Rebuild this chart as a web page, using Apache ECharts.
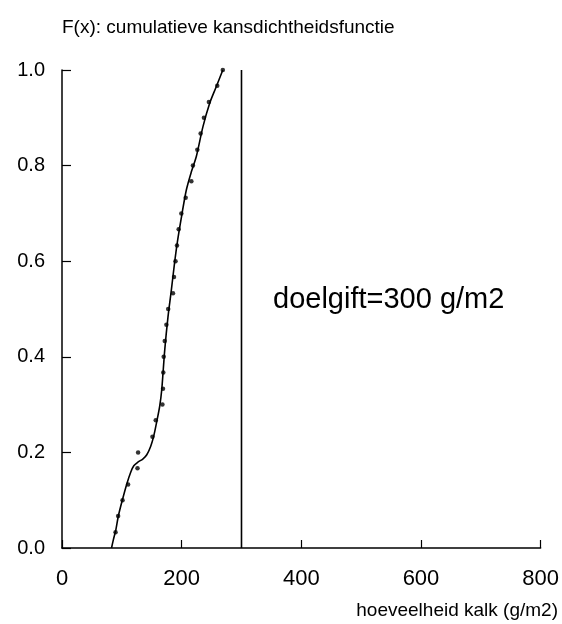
<!DOCTYPE html>
<html><head><meta charset="utf-8">
<script src="https://cdn.jsdelivr.net/npm/echarts@6/dist/echarts.min.js"></script>
<style>html,body{margin:0;padding:0;background:#fff}#c{width:562px;height:624px}</style>
</head><body><div id="c"></div>
<script>
// Empirical CDF points (x in g/m2, F(x))
const pointX = [89.5,93.8,101.2,110.5,126.2,127.2,151.2,156.7,167.8,168.8,169.3,170,171.7,174.5,177.5,185.5,187.2,189.7,192.2,195,199.5,206.7,216.2,218.8,226.2,231.7,237.2,245.5,259.5,268.8];
const pointY = [0.033,0.067,0.100,0.133,0.167,0.200,0.233,0.267,0.300,0.333,0.367,0.400,0.433,0.467,0.500,0.533,0.567,0.600,0.633,0.667,0.700,0.733,0.767,0.800,0.833,0.867,0.900,0.933,0.967,1.000];
// Fitted smooth curve
const curveX = [82.8,85.8,90,94.2,100.8,108.3,115,120,127.2,135,141.7,148.3,153.3,158.3,163.3,166.7,171.7,177.2,182.8,188.3,193.3,200,207.8,216.2,224.5,235.5,246.7,257.8,268.8];
const curveY = [0,0.017,0.038,0.067,0.100,0.134,0.159,0.172,0.180,0.186,0.195,0.213,0.234,0.264,0.297,0.331,0.414,0.484,0.540,0.598,0.644,0.695,0.749,0.787,0.819,0.881,0.930,0.965,1.0];
const doelgift = 300;
const xTicks = [0,200,400,600,800];
const yTicks = [0,0.2,0.4,0.6,0.8,1.0];

const chart = echarts.init(document.getElementById('c'), null, {renderer:'canvas'});
const font = 'Liberation Sans, Arial, sans-serif';
chart.setOption({
  animation:false,
  backgroundColor:'#fff',
  grid:{left:62,right:20,top:70,bottom:76},
  xAxis:{type:'value',min:xTicks[0],max:xTicks[xTicks.length-1],interval:200,
    axisLine:{show:true,lineStyle:{color:'#000',width:1.5}},
    axisTick:{show:true,inside:true,length:8,lineStyle:{color:'#000',width:1.2}},
    axisLabel:{color:'#000',fontSize:22,fontFamily:font,margin:20},
    splitLine:{show:false}},
  yAxis:{type:'value',min:yTicks[0],max:yTicks[yTicks.length-1],interval:0.2,
    axisLine:{show:true,lineStyle:{color:'#000',width:1.5}},
    axisTick:{show:true,inside:true,length:9,lineStyle:{color:'#000',width:1.2}},
    axisLabel:{color:'#000',fontSize:20,fontFamily:font,margin:17,formatter:v=>v.toFixed(1)},
    splitLine:{show:false}},
  series:[
    {type:'line',data:curveX.map((x,i)=>[x,curveY[i]]),smooth:0.3,showSymbol:false,
      lineStyle:{color:'#000',width:1.6}},
    {type:'scatter',data:pointX.map((x,i)=>[x,pointY[i]]),symbol:'circle',symbolSize:4.5,
      itemStyle:{color:'#000'}},
    {type:'line',data:[[doelgift,0],[doelgift,1]],showSymbol:false,
      lineStyle:{color:'#000',width:1.6}}
  ],
  graphic:[
    {type:'text',left:62,top:18,style:{text:'F(x): cumulatieve kansdichtheidsfunctie',font:'19px '+font,fill:'#000'}},
    {type:'text',right:4,top:601,style:{text:'hoeveelheid kalk (g/m2)',font:'19px '+font,fill:'#000'}},
    {type:'text',left:273,top:285,style:{text:'doelgift=300 g/m2',font:'29px '+font,fill:'#000'}}
  ]
});
</script></body></html>
